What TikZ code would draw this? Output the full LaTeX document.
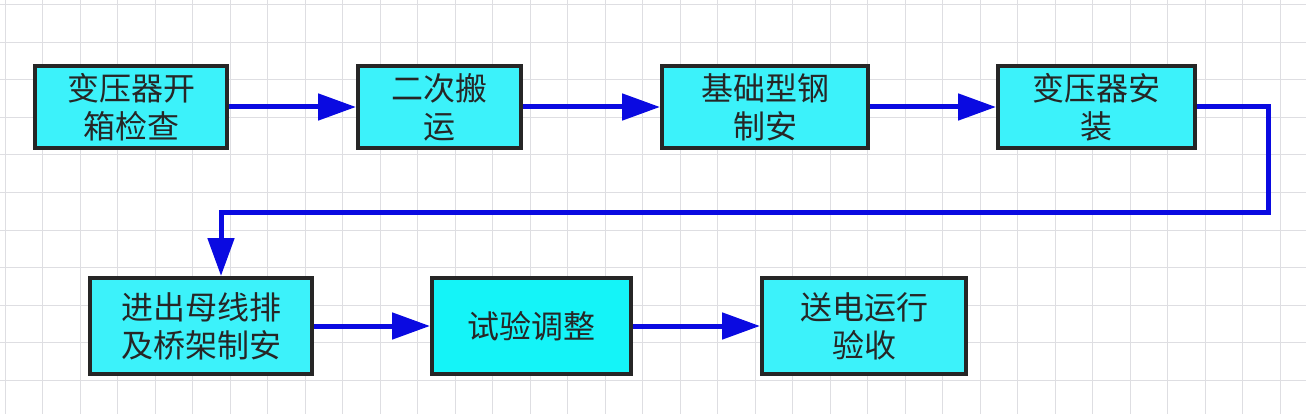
\documentclass[tikz,border=0pt]{standalone}
\usepackage{fontspec}
\newfontfamily\cjk{Noto Sans CJK SC}
\usepackage{tikz}
\usetikzlibrary{arrows.meta}
\definecolor{boxfill}{RGB}{60,242,250}
\definecolor{testfill}{RGB}{20,244,248}
\definecolor{flowblue}{RGB}{10,10,225}
\definecolor{gridgray}{RGB}{222,222,226}
\tikzset{
  stepbox/.style={draw=black!85, line width=4pt, fill=boxfill,
    align=center, inner sep=0pt, text=black!85,
    font=\cjk\fontsize{32}{38}\selectfont},
  flow/.style={draw=flowblue, line width=5pt,
    -{Triangle[length=38pt,width=26pt]}},
  gridline/.style={draw=gridgray, line width=1pt},
}

\begin{document}
\begin{tikzpicture}[x=1pt,y=-1pt]
\useasboundingbox[fill=white] (0,0) rectangle (1306,414);
% background grid
\foreach \k in {0,...,34}
  \draw[gridline] ({5+37.5*\k},0) -- ({5+37.5*\k},414);
\foreach \k in {0,...,10}
  \draw[gridline] (0,{5+37.5*\k}) -- (1306,{5+37.5*\k});
% first row
\node[stepbox, minimum width=192pt, minimum height=82pt] (open)
  at (131,107) {变压器开\\箱检查};
\node[stepbox, minimum width=163pt, minimum height=82pt] (move)
  at (439.5,107) {二次搬\\运};
\node[stepbox, minimum width=206pt, minimum height=82pt] (base)
  at (765,107) {基础型钢\\制安};
\node[stepbox, minimum width=197pt, minimum height=82pt] (mount)
  at (1096.5,107) {变压器安\\装};
% second row
\node[stepbox, minimum width=222pt, minimum height=96pt] (bus)
  at (201,326) {进出母线排\\及桥架制安};
\node[stepbox, fill=testfill, minimum width=199pt, minimum height=96pt] (test)
  at (531.5,326) {试验调整};
\node[stepbox, minimum width=204pt, minimum height=96pt] (power)
  at (864,326) {送电运行\\验收};
% connectors
\coordinate (turn) at (1268,213);
\draw[flow] (open) -- (move);
\draw[flow] (move) -- (base);
\draw[flow] (base) -- (mount);
\draw[flow] (mount.east) -| (turn) -| ([xshift=20pt]bus.north);
\draw[flow] (bus) -- (test);
\draw[flow] (test) -- (power);
\end{tikzpicture}
\end{document}
